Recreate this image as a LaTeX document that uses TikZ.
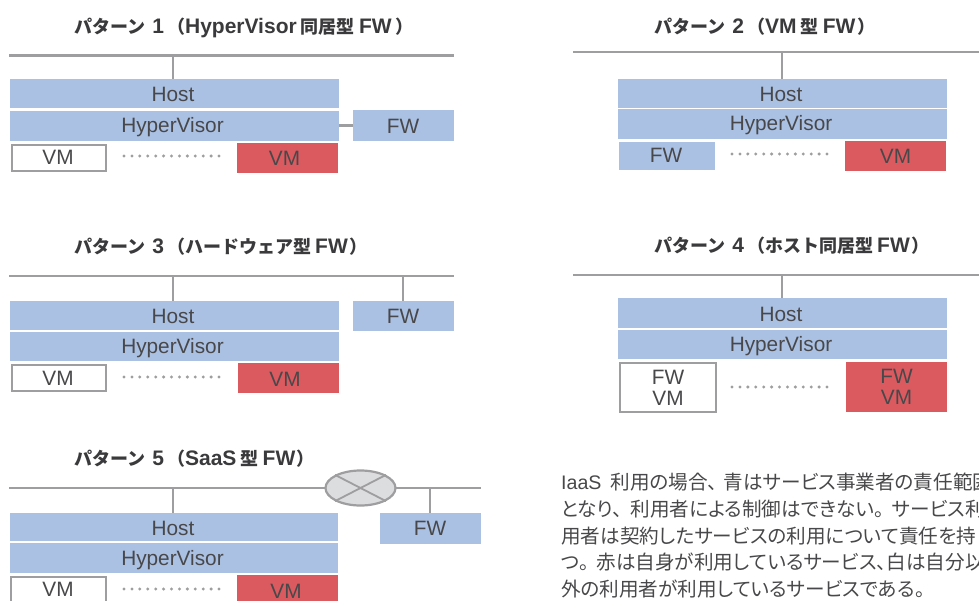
\documentclass[tikz,border=0pt]{standalone}
\usepackage{fontspec}
\setmainfont{Noto Sans CJK JP}
\newfontfamily\pal[RawFeature=+palt]{Noto Sans CJK JP}
\newfontfamily\lat{Liberation Sans}
\usetikzlibrary{shapes.geometric}
\definecolor{bl}{HTML}{AAC1E3}
\definecolor{rd}{HTML}{DB5A60}
\definecolor{gr}{HTML}{9E9EA0}
\definecolor{tx}{HTML}{3A3A3C}
\definecolor{tb}{HTML}{48484A}
\definecolor{el}{HTML}{DCDDDF}
\newcommand{\tl}[1]{{\lat\fontsize{21}{20}\selectfont\bfseries #1}}
% dx, dy (downwards), text: text placed relative to the box centre
\newcommand{\lb}[3]{\smash{\raisebox{\dimexpr-7.5pt-#2pt\relax}{\hspace{#1pt}#3\hspace{\dimexpr-1\dimexpr#1pt\relax\relax}}}}
\tikzset{
 x=1pt,y=-1pt,
 lbl/.style={font=\lat\fontsize{20.8}{21}\selectfont,text=tb,align=center,inner sep=0pt,outer sep=0pt},
 bluebox/.style={lbl,fill=bl},
 redbox/.style={lbl,fill=rd},
 whitebox/.style={lbl,fill=white,draw=gr,line width=2.2pt},
 ttl/.style={font=\fontsize{18}{20}\selectfont\bfseries,text=tx,anchor=west,inner sep=0pt},
 wire/.style={draw=gr,line width=2.2pt},
 xwire/.style={draw=gr,line width=1.8pt},
 dotrow/.style={draw=gr,line width=3.3pt,line cap=round,dash pattern=on 0pt off 7.92pt},
 para/.style={font=\pal\fontsize{19.6}{26.7}\selectfont,text=tb,anchor=north west,align=left,inner sep=0pt},
}
% style, name, x1, x2, y1, y2, text
\newcommand{\bx}[7]{\node[#1,minimum width=#4pt-#3pt,minimum height=#6pt-#5pt] (#2) at ({(#3+#4)/2},{(#5+#6)/2}) {#7};}
\begin{document}
\begin{tikzpicture}
\useasboundingbox (0,0) rectangle (979,601);
\clip (0,0) rectangle (979,601);
% Pattern 1
\node[ttl] (t1) at (74,28) {パターン\hspace{3pt} \tl{1}\hspace{3pt}（\tl{HyperVisor} 同居型 \tl{FW}\hspace{4pt}）};
\coordinate (a1) at (9,55.5); \coordinate (b1) at (454,55.5); \coordinate (s1) at (173,55.5);
\bx{bluebox}{h1}{10}{339}{79}{108}{\lb{-1.5}{1}{Host}}
\bx{bluebox}{v1}{10}{339}{111}{141}{\lb{-2}{-1}{HyperVisor}}
\bx{whitebox}{w1}{12}{106}{145}{171}{\lb{-1}{-1}{VM}}
\bx{redbox}{r1}{237}{338}{143}{173}{\lb{-3}{0}{VM}}
\bx{bluebox}{f1}{353}{454}{110}{141}{\lb{-0.5}{1}{FW}}
\coordinate (c1) at (346,125.5);
\draw[wire] (a1) -- (b1);
\draw[wire] (s1) -- (s1 |- h1.north);
\draw[wire] (v1.east |- c1) -- (f1.west |- c1);
\coordinate (d1a) at (124,156); \coordinate (d1b) at (220,156);
\draw[dotrow] (d1a) -- (d1b);
% Pattern 2
\node[ttl] (t2) at (654,27) {パターン\hspace{3pt} \tl{2}\hspace{3pt}（\tl{VM} 型 \tl{FW}\hspace{2pt}）};
\coordinate (a2) at (573,52); \coordinate (b2) at (979,52); \coordinate (s2) at (782,52);
\bx{bluebox}{h2}{618}{947}{79}{108}{\lb{-1.5}{0.5}{Host}}
\bx{bluebox}{v2}{618}{947}{109.5}{139}{\lb{-1.5}{-1}{HyperVisor}}
\bx{bluebox}{f2}{619}{715}{142}{170}{\lb{-1}{-1}{FW}}
\bx{redbox}{r2}{845}{946}{141}{171}{\lb{0}{0}{VM}}
\draw[wire] (a2) -- (b2);
\draw[wire] (s2) -- (s2 |- h2.north);
\coordinate (d2a) at (732,154); \coordinate (d2b) at (828,154);
\draw[dotrow] (d2a) -- (d2b);
% Pattern 3
\node[ttl] (t3) at (74,247) {パターン\hspace{3pt} \tl{3}\hspace{3pt}（ハードウェア型 \tl{FW}\hspace{2pt}）};
\coordinate (a3) at (9,276); \coordinate (b3) at (454,276); \coordinate (s3) at (173,276); \coordinate (u3) at (403,276);
\bx{bluebox}{h3}{10}{339}{301}{330}{\lb{-1.5}{0.5}{Host}}
\bx{bluebox}{v3}{10}{339}{332}{361}{\lb{-2}{-0.5}{HyperVisor}}
\bx{whitebox}{w3}{12}{106}{365}{391}{\lb{-1}{0}{VM}}
\bx{redbox}{r3}{238}{339}{363}{393}{\lb{-3.5}{1}{VM}}
\bx{bluebox}{f3}{353}{454}{301}{331}{\lb{-0.5}{0}{FW}}
\draw[wire] (a3) -- (b3);
\draw[wire] (s3) -- (s3 |- h3.north);
\draw[wire] (u3) -- (u3 |- f3.north);
\coordinate (d3a) at (124,377); \coordinate (d3b) at (220,377);
\draw[dotrow] (d3a) -- (d3b);
% Pattern 4
\node[ttl] (t4) at (654,246) {パターン\hspace{3pt} \tl{4}\hspace{3pt}（ホスト同居型 \tl{FW}\hspace{2pt}）};
\coordinate (a4) at (573,275); \coordinate (b4) at (979,275); \coordinate (s4) at (782,275);
\bx{bluebox}{h4}{618}{947}{298}{328}{\lb{-1.5}{1}{Host}}
\bx{bluebox}{v4}{618}{947}{330}{359}{\lb{-1.5}{-0.5}{HyperVisor}}
\bx{whitebox}{w4}{620}{716}{363}{412}{FW\\VM}
\bx{redbox}{r4}{846}{947}{362}{412}{FW\\VM}
\draw[wire] (a4) -- (b4);
\draw[wire] (s4) -- (s4 |- h4.north);
\coordinate (d4a) at (732,387); \coordinate (d4b) at (828,387);
\draw[dotrow] (d4a) -- (d4b);
% Pattern 5
\node[ttl] (t5) at (74,459) {パターン\hspace{3pt} \tl{5}\hspace{3pt}（\tl{SaaS} 型 \tl{FW}\hspace{1pt}）};
\coordinate (a5) at (9,488); \coordinate (b5) at (481,488); \coordinate (s5) at (173,488); \coordinate (u5) at (430,488);
\draw[wire] (a5) -- (b5);
\node[ellipse,draw=gr,fill=el,line width=2.2pt,minimum width=70pt,minimum height=35pt,inner sep=0pt] (e5) at (360.5,488) {};
\draw[xwire] (e5.north west) -- (e5.south east);
\draw[xwire] (e5.north east) -- (e5.south west);
\bx{bluebox}{h5}{10}{338}{513}{541}{\lb{-1}{1}{Host}}
\bx{bluebox}{v5}{10}{338}{543}{573}{\lb{-1.5}{0}{HyperVisor}}
\bx{whitebox}{w5}{11}{106}{577}{603}{\lb{-0.5}{-1}{VM}}
\bx{redbox}{r5}{237}{338}{575}{605}{\lb{-1.5}{1}{VM}}
\bx{bluebox}{f5}{380}{481}{513}{544}{\lb{-0.5}{-0.5}{FW}}
\draw[wire] (s5) -- (s5 |- h5.north);
\draw[wire] (u5) -- (u5 |- f5.north);
\coordinate (d5a) at (124,589); \coordinate (d5b) at (220,589);
\draw[dotrow] (d5a) -- (d5b);
% Text
\node[para] (p) at (561,473) {{\lat IaaS}\hspace{9pt}利用の場合、\hspace{6pt}青はサービス事業者の責任範囲\\となり、\hspace{8pt}利用者による制御はできない。\hspace{8pt}サービス利\\用者は契約したサービスの利用について責任を持\\つ。\hspace{8pt}赤は自身が利用しているサービス、白は自分以\\外の利用者が利用しているサービスである。};
\end{tikzpicture}
\end{document}
